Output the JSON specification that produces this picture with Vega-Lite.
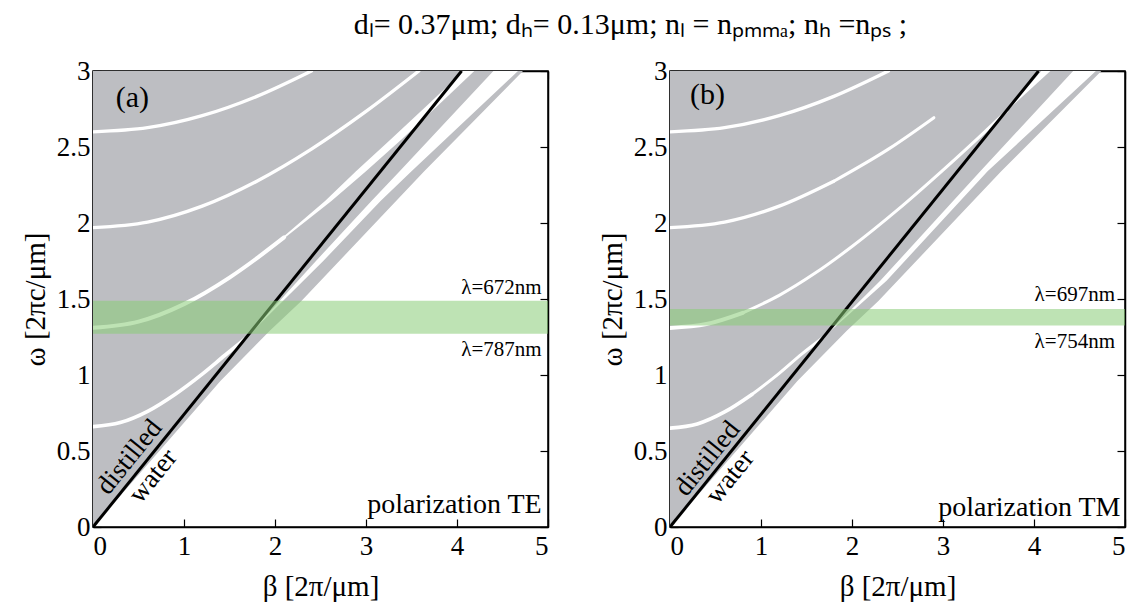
{
  "$schema": "https://vega.github.io/schema/vega-lite/v6.json",
  "padding": {"left": 20, "top": 10, "right": 0, "bottom": 0},
  "background": "white",
  "title": {"text": "dₗ= 0.37μm; dₕ= 0.13μm; nₗ = nₚₘₘₐ; nₕ =nₚₛ  ;", "anchor": "middle", "frame": "bounds", "dx": 57, "font": "Liberation Serif", "fontSize": 30, "fontWeight": "normal", "color": "black", "offset": 16},
  "config": {
    "font": "Liberation Serif",
    "view": {"stroke": "black", "strokeWidth": 1.5},
    "axis": {"grid": false, "labelFont": "Liberation Serif", "labelFontSize": 27, "labelColor": "black", "titleFont": "Liberation Serif", "titleFontSize": 29, "titleFontWeight": "normal", "titleColor": "black", "domainColor": "black", "domainWidth": 1.5, "tickColor": "black", "tickSize": -8, "tickWidth": 1.2},
    "text": {"font": "Liberation Serif", "color": "black"}
  },
  "datasets": {
    "bands": [
      {"p": "a", "w": 0, "lo": 0, "hi": 0}, {"p": "a", "w": 0.96, "lo": 0, "hi": 1.40}, {"p": "a", "w": 1.29, "lo": 0, "hi": 1.94}, {"p": "a", "w": 1.487, "lo": 0, "hi": 2.29}, {"p": "a", "w": 2.34, "lo": 0, "hi": 3.64}, {"p": "a", "w": 3, "lo": 0, "hi": 4.725},
      {"p": "b", "w": 0, "lo": 0, "hi": 0}, {"p": "b", "w": 0.96, "lo": 0, "hi": 1.40}, {"p": "b", "w": 1.29, "lo": 0, "hi": 1.94}, {"p": "b", "w": 1.487, "lo": 0, "hi": 2.29}, {"p": "b", "w": 2.34, "lo": 0, "hi": 3.64}, {"p": "b", "w": 3, "lo": 0, "hi": 4.74}
    ],
    "stripes": [
      {"p": "a", "s": "a1", "w": 1.235, "lo": 1.665, "hi": 1.665}, {"p": "a", "s": "a1", "w": 1.75, "lo": 2.45, "hi": 2.53}, {"p": "a", "s": "a1", "w": 2.145, "lo": 3.06, "hi": 3.16}, {"p": "a", "s": "a1", "w": 2.34, "lo": 3.37, "hi": 3.50}, {"p": "a", "s": "a1", "w": 3.0, "lo": 4.40, "hi": 4.67},
      {"p": "a", "s": "a2", "w": 1.906, "lo": 2.085, "hi": 2.115}, {"p": "a", "s": "a2", "w": 2.145, "lo": 2.55, "hi": 2.62}, {"p": "a", "s": "a2", "w": 2.34, "lo": 2.89, "hi": 3.0}, {"p": "a", "s": "a2", "w": 2.55, "lo": 3.27, "hi": 3.39}, {"p": "a", "s": "a2", "w": 2.79, "lo": 3.70, "hi": 3.82}, {"p": "a", "s": "a2", "w": 3.0, "lo": 4.07, "hi": 4.19},
      {"p": "b", "s": "b1", "w": 1.245, "lo": 1.68, "hi": 1.68}, {"p": "b", "s": "b1", "w": 1.62, "lo": 2.31, "hi": 2.38}, {"p": "b", "s": "b1", "w": 2.34, "lo": 3.41, "hi": 3.49}, {"p": "b", "s": "b1", "w": 3.0, "lo": 4.43, "hi": 4.68},
      {"p": "b", "s": "b2", "w": 2.736, "lo": 3.70, "hi": 3.70}, {"p": "b", "s": "b2", "w": 3.0, "lo": 4.08, "hi": 4.18}
    ],
    "curves": [
      {"p": "a", "c": "a1", "st": "medium", "b": 0, "w": 0.66}, {"p": "a", "c": "a1", "st": "medium", "b": 0.3, "w": 0.687}, {"p": "a", "c": "a1", "st": "medium", "b": 0.6, "w": 0.761}, {"p": "a", "c": "a1", "st": "medium", "b": 0.9, "w": 0.872}, {"p": "a", "c": "a1", "st": "medium", "b": 1.2, "w": 1.006}, {"p": "a", "c": "a1", "st": "medium", "b": 1.45, "w": 1.13}, {"p": "a", "c": "a1", "st": "medium", "b": 1.665, "w": 1.235},
      {"p": "a", "c": "a2", "st": "bold", "b": 0, "w": 1.31}, {"p": "a", "c": "a2", "st": "bold", "b": 0.5, "w": 1.351}, {"p": "a", "c": "a2", "st": "bold", "b": 1.0, "w": 1.466}, {"p": "a", "c": "a2", "st": "bold", "b": 1.5, "w": 1.641}, {"p": "a", "c": "a2", "st": "bold", "b": 2.0, "w": 1.859}, {"p": "a", "c": "a2", "st": "bold", "b": 2.1, "w": 1.906},
      {"p": "a", "c": "a3", "st": "thin", "b": 0, "w": 1.97}, {"p": "a", "c": "a3", "st": "thin", "b": 0.6, "w": 2.006}, {"p": "a", "c": "a3", "st": "thin", "b": 1.2, "w": 2.111}, {"p": "a", "c": "a3", "st": "thin", "b": 1.8, "w": 2.275}, {"p": "a", "c": "a3", "st": "thin", "b": 2.4, "w": 2.486}, {"p": "a", "c": "a3", "st": "thin", "b": 3.0, "w": 2.734}, {"p": "a", "c": "a3", "st": "thin", "b": 3.58, "w": 3.0},
      {"p": "a", "c": "a4", "st": "thin", "b": 0, "w": 2.6}, {"p": "a", "c": "a4", "st": "thin", "b": 0.6, "w": 2.627}, {"p": "a", "c": "a4", "st": "thin", "b": 1.2, "w": 2.706}, {"p": "a", "c": "a4", "st": "thin", "b": 1.8, "w": 2.833}, {"p": "a", "c": "a4", "st": "thin", "b": 2.4, "w": 3.0},
      {"p": "b", "c": "b1s", "st": "medium", "b": 0, "w": 0.65}, {"p": "b", "c": "b1s", "st": "medium", "b": 0.3, "w": 0.678}, {"p": "b", "c": "b1s", "st": "medium", "b": 0.6, "w": 0.757}, {"p": "b", "c": "b1s", "st": "medium", "b": 0.9, "w": 0.872},
      {"p": "b", "c": "b1f", "st": "faint", "b": 0.9, "w": 0.872}, {"p": "b", "c": "b1f", "st": "faint", "b": 1.2, "w": 1.011}, {"p": "b", "c": "b1f", "st": "faint", "b": 1.45, "w": 1.139}, {"p": "b", "c": "b1f", "st": "faint", "b": 1.68, "w": 1.245},
      {"p": "b", "c": "b2s", "st": "bold", "b": 0, "w": 1.31}, {"p": "b", "c": "b2s", "st": "bold", "b": 0.4, "w": 1.335}, {"p": "b", "c": "b2s", "st": "bold", "b": 0.8, "w": 1.409},
      {"p": "b", "c": "b2f", "st": "faint", "b": 0.8, "w": 1.409}, {"p": "b", "c": "b2f", "st": "faint", "b": 1.2, "w": 1.524}, {"p": "b", "c": "b2f", "st": "faint", "b": 1.6, "w": 1.672}, {"p": "b", "c": "b2f", "st": "faint", "b": 2.0, "w": 1.845}, {"p": "b", "c": "b2f", "st": "faint", "b": 2.5, "w": 2.086}, {"p": "b", "c": "b2f", "st": "faint", "b": 3.0, "w": 2.348}, {"p": "b", "c": "b2f", "st": "faint", "b": 3.4, "w": 2.567}, {"p": "b", "c": "b2f", "st": "faint", "b": 3.7, "w": 2.736},
      {"p": "b", "c": "b3s", "st": "thin", "b": 0, "w": 1.97}, {"p": "b", "c": "b3s", "st": "thin", "b": 0.6, "w": 2.006}, {"p": "b", "c": "b3s", "st": "thin", "b": 1.2, "w": 2.111}, {"p": "b", "c": "b3s", "st": "thin", "b": 1.8, "w": 2.275},
      {"p": "b", "c": "b3f", "st": "faint", "b": 1.8, "w": 2.275}, {"p": "b", "c": "b3f", "st": "faint", "b": 2.4, "w": 2.486}, {"p": "b", "c": "b3f", "st": "faint", "b": 2.9, "w": 2.693},
      {"p": "b", "c": "b4", "st": "thin", "b": 0, "w": 2.6}, {"p": "b", "c": "b4", "st": "thin", "b": 0.6, "w": 2.627}, {"p": "b", "c": "b4", "st": "thin", "b": 1.2, "w": 2.706}, {"p": "b", "c": "b4", "st": "thin", "b": 1.8, "w": 2.833}, {"p": "b", "c": "b4", "st": "thin", "b": 2.4, "w": 3.0}
    ],
    "water": [
      {"p": "a", "b": 0, "w": 0}, {"p": "a", "b": 4.05, "w": 3},
      {"p": "b", "b": 0, "w": 0}, {"p": "b", "b": 4.05, "w": 3}
    ],
    "green": [
      {"p": "a", "w0": 1.271, "w1": 1.488},
      {"p": "b", "w0": 1.326, "w1": 1.435}
    ],
    "labels": [
      {"p": "a", "role": "letter", "t": "(a)", "b": 0.25, "w": 2.82},
      {"p": "a", "role": "pol", "t": "polarization TE", "b": 4.93, "w": 0.09},
      {"p": "a", "role": "lam", "t": "λ=672nm", "b": 4.93, "w": 1.533},
      {"p": "a", "role": "lam", "t": "λ=787nm", "b": 4.93, "w": 1.125},
      {"p": "a", "role": "fluid", "t": "distilled", "b": 0.40, "w": 0.46},
      {"p": "a", "role": "fluid", "t": "water", "b": 0.66, "w": 0.335},
      {"p": "b", "role": "letter", "t": "(b)", "b": 0.22, "w": 2.84},
      {"p": "b", "role": "pol", "t": "polarization TM", "b": 4.95, "w": 0.075},
      {"p": "b", "role": "lam", "t": "λ=697nm", "b": 4.89, "w": 1.49},
      {"p": "b", "role": "lam", "t": "λ=754nm", "b": 4.89, "w": 1.18},
      {"p": "b", "role": "fluid", "t": "distilled", "b": 0.41, "w": 0.45},
      {"p": "b", "role": "fluid", "t": "water", "b": 0.66, "w": 0.33}
    ]
  },
  "spacing": 47,
  "hconcat": [
    {
      "width": 455, "height": 456,
      "resolve": {"axis": {"x": "independent", "y": "independent"}},
      "layer": [
        {"data": {"name": "bands"}, "transform": [{"filter": "datum.p == 'a'"}],
         "mark": {"type": "area", "orient": "horizontal", "color": "#bdbec2", "clip": true},
         "encoding": {
           "y": {"field": "w", "type": "quantitative", "scale": {"domain": [0, 3], "nice": false}, "axis": {"orient": "left", "values": [0, 0.5, 1, 1.5, 2, 2.5, 3], "format": "~g", "title": "ω [2πc/μm]", "labelPadding": 11, "titlePadding": 6}},
           "x": {"field": "lo", "type": "quantitative", "scale": {"domain": [0, 5], "nice": false}, "axis": {"orient": "bottom", "values": [0, 1, 2, 3, 4, 5], "format": "~g", "title": "β [2π/μm]", "labelPadding": 14, "titlePadding": 13}},
           "x2": {"field": "hi"}
         }},
        {"data": {"name": "stripes"}, "transform": [{"filter": "datum.p == 'a'"}],
         "mark": {"type": "area", "orient": "horizontal", "color": "white", "clip": true},
         "encoding": {
           "y": {"field": "w", "type": "quantitative", "scale": {"domain": [0, 3], "nice": false}, "axis": null},
           "x": {"field": "lo", "type": "quantitative", "scale": {"domain": [0, 5], "nice": false}, "axis": null},
           "x2": {"field": "hi"},
           "detail": {"field": "s"}
         }},
        {"data": {"name": "curves"}, "transform": [{"filter": "datum.p == 'a'"}],
         "mark": {"type": "line", "color": "white", "clip": true, "strokeCap": "round", "interpolate": "monotone"},
         "encoding": {
           "x": {"field": "b", "type": "quantitative", "scale": {"domain": [0, 5], "nice": false}, "axis": null},
           "y": {"field": "w", "type": "quantitative", "scale": {"domain": [0, 3], "nice": false}, "axis": null},
           "detail": {"field": "c"},
           "strokeWidth": {"field": "st", "type": "nominal", "scale": {"domain": ["bold", "medium", "thin", "faint"], "range": [4, 3, 2, 1.3]}, "legend": null}
         }},
        {"data": {"name": "water"}, "transform": [{"filter": "datum.p == 'a'"}],
         "mark": {"type": "line", "color": "black", "strokeWidth": 3, "clip": true},
         "encoding": {
           "x": {"field": "b", "type": "quantitative", "scale": {"domain": [0, 5], "nice": false}, "axis": {"orient": "top", "values": [0, 1, 2, 3, 4, 5], "labels": false, "title": null}},
           "y": {"field": "w", "type": "quantitative", "scale": {"domain": [0, 3], "nice": false}, "axis": {"orient": "right", "values": [0, 0.5, 1, 1.5, 2, 2.5, 3], "labels": false, "title": null}}
         }},
        {"data": {"name": "green"}, "transform": [{"filter": "datum.p == 'a'"}],
         "mark": {"type": "rect", "color": "#88cc77", "opacity": 0.55},
         "encoding": {
           "y": {"field": "w0", "type": "quantitative", "scale": {"domain": [0, 3], "nice": false}, "axis": null},
           "y2": {"field": "w1"}
         }},
        {"data": {"name": "labels"}, "transform": [{"filter": "datum.p == 'a' && datum.role == 'letter'"}],
         "mark": {"type": "text", "align": "left", "baseline": "middle", "fontSize": 30},
         "encoding": {"x": {"field": "b", "type": "quantitative", "axis": null}, "y": {"field": "w", "type": "quantitative", "axis": null}, "text": {"field": "t"}}},
        {"data": {"name": "labels"}, "transform": [{"filter": "datum.p == 'a' && datum.role == 'pol'"}],
         "mark": {"type": "text", "align": "right", "baseline": "alphabetic", "fontSize": 28},
         "encoding": {"x": {"field": "b", "type": "quantitative", "axis": null}, "y": {"field": "w", "type": "quantitative", "axis": null}, "text": {"field": "t"}}},
        {"data": {"name": "labels"}, "transform": [{"filter": "datum.p == 'a' && datum.role == 'lam'"}],
         "mark": {"type": "text", "align": "right", "baseline": "alphabetic", "fontSize": 21},
         "encoding": {"x": {"field": "b", "type": "quantitative", "axis": null}, "y": {"field": "w", "type": "quantitative", "axis": null}, "text": {"field": "t"}}},
        {"data": {"name": "labels"}, "transform": [{"filter": "datum.p == 'a' && datum.role == 'fluid'"}],
         "mark": {"type": "text", "align": "center", "baseline": "middle", "fontSize": 27, "angle": -51},
         "encoding": {"x": {"field": "b", "type": "quantitative", "axis": null}, "y": {"field": "w", "type": "quantitative", "axis": null}, "text": {"field": "t"}}}
      ]
    },
    {
      "width": 455, "height": 456,
      "resolve": {"axis": {"x": "independent", "y": "independent"}},
      "layer": [
        {"data": {"name": "bands"}, "transform": [{"filter": "datum.p == 'b'"}],
         "mark": {"type": "area", "orient": "horizontal", "color": "#bdbec2", "clip": true},
         "encoding": {
           "y": {"field": "w", "type": "quantitative", "scale": {"domain": [0, 3], "nice": false}, "axis": {"orient": "left", "values": [0, 0.5, 1, 1.5, 2, 2.5, 3], "format": "~g", "title": "ω [2πc/μm]", "labelPadding": 11, "titlePadding": 6}},
           "x": {"field": "lo", "type": "quantitative", "scale": {"domain": [0, 5], "nice": false}, "axis": {"orient": "bottom", "values": [0, 1, 2, 3, 4, 5], "format": "~g", "title": "β [2π/μm]", "labelPadding": 14, "titlePadding": 13}},
           "x2": {"field": "hi"}
         }},
        {"data": {"name": "stripes"}, "transform": [{"filter": "datum.p == 'b'"}],
         "mark": {"type": "area", "orient": "horizontal", "color": "white", "clip": true},
         "encoding": {
           "y": {"field": "w", "type": "quantitative", "scale": {"domain": [0, 3], "nice": false}, "axis": null},
           "x": {"field": "lo", "type": "quantitative", "scale": {"domain": [0, 5], "nice": false}, "axis": null},
           "x2": {"field": "hi"},
           "detail": {"field": "s"}
         }},
        {"data": {"name": "curves"}, "transform": [{"filter": "datum.p == 'b'"}],
         "mark": {"type": "line", "color": "white", "clip": true, "strokeCap": "round", "interpolate": "monotone"},
         "encoding": {
           "x": {"field": "b", "type": "quantitative", "scale": {"domain": [0, 5], "nice": false}, "axis": null},
           "y": {"field": "w", "type": "quantitative", "scale": {"domain": [0, 3], "nice": false}, "axis": null},
           "detail": {"field": "c"},
           "strokeWidth": {"field": "st", "type": "nominal", "scale": {"domain": ["bold", "medium", "thin", "faint"], "range": [4, 3, 2, 1.3]}, "legend": null}
         }},
        {"data": {"name": "water"}, "transform": [{"filter": "datum.p == 'b'"}],
         "mark": {"type": "line", "color": "black", "strokeWidth": 3, "clip": true},
         "encoding": {
           "x": {"field": "b", "type": "quantitative", "scale": {"domain": [0, 5], "nice": false}, "axis": {"orient": "top", "values": [0, 1, 2, 3, 4, 5], "labels": false, "title": null}},
           "y": {"field": "w", "type": "quantitative", "scale": {"domain": [0, 3], "nice": false}, "axis": {"orient": "right", "values": [0, 0.5, 1, 1.5, 2, 2.5, 3], "labels": false, "title": null}}
         }},
        {"data": {"name": "green"}, "transform": [{"filter": "datum.p == 'b'"}],
         "mark": {"type": "rect", "color": "#88cc77", "opacity": 0.55},
         "encoding": {
           "y": {"field": "w0", "type": "quantitative", "scale": {"domain": [0, 3], "nice": false}, "axis": null},
           "y2": {"field": "w1"}
         }},
        {"data": {"name": "labels"}, "transform": [{"filter": "datum.p == 'b' && datum.role == 'letter'"}],
         "mark": {"type": "text", "align": "left", "baseline": "middle", "fontSize": 30},
         "encoding": {"x": {"field": "b", "type": "quantitative", "axis": null}, "y": {"field": "w", "type": "quantitative", "axis": null}, "text": {"field": "t"}}},
        {"data": {"name": "labels"}, "transform": [{"filter": "datum.p == 'b' && datum.role == 'pol'"}],
         "mark": {"type": "text", "align": "right", "baseline": "alphabetic", "fontSize": 28},
         "encoding": {"x": {"field": "b", "type": "quantitative", "axis": null}, "y": {"field": "w", "type": "quantitative", "axis": null}, "text": {"field": "t"}}},
        {"data": {"name": "labels"}, "transform": [{"filter": "datum.p == 'b' && datum.role == 'lam'"}],
         "mark": {"type": "text", "align": "right", "baseline": "alphabetic", "fontSize": 21},
         "encoding": {"x": {"field": "b", "type": "quantitative", "axis": null}, "y": {"field": "w", "type": "quantitative", "axis": null}, "text": {"field": "t"}}},
        {"data": {"name": "labels"}, "transform": [{"filter": "datum.p == 'b' && datum.role == 'fluid'"}],
         "mark": {"type": "text", "align": "center", "baseline": "middle", "fontSize": 27, "angle": -51},
         "encoding": {"x": {"field": "b", "type": "quantitative", "axis": null}, "y": {"field": "w", "type": "quantitative", "axis": null}, "text": {"field": "t"}}}
      ]
    }
  ]
}
